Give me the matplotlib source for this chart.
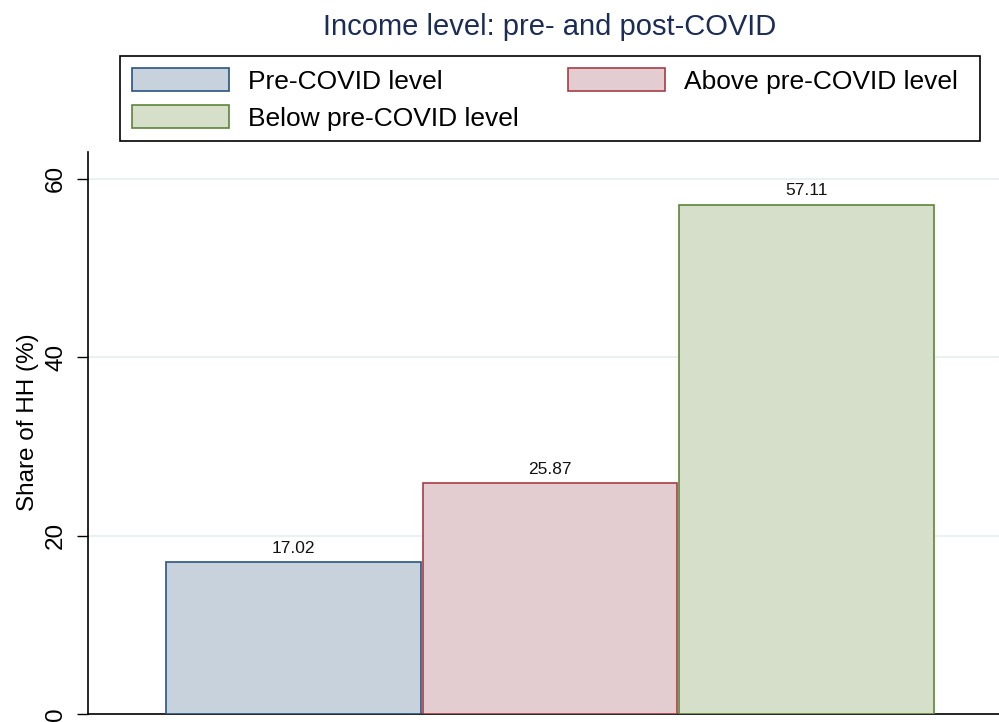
import matplotlib
matplotlib.use("Agg")
import matplotlib.pyplot as plt
from matplotlib.patches import Patch, Rectangle

categories = ["Pre-COVID level", "Above pre-COVID level", "Below pre-COVID level"]
values = [17.02, 25.87, 57.11]
yticks = [0, 20, 40, 60]

fills = ["#c8d2dc", "#e3cdd1", "#d5dfca"]
edges = ["#2a5580", "#a83c48", "#5f8438"]

plt.rcParams['font.family'] = ['Liberation Sans', 'DejaVu Sans']

W, H = 999, 722
fig = plt.figure(figsize=(W/100, H/100), dpi=100)
ax = fig.add_axes([88/W, 1 - 714/H, 1 - 88/W, (714 - 152)/H])

x = list(range(len(values)))
ax.bar(x, values, width=0.992, color=fills, edgecolor=edges, linewidth=1.2, zorder=3)
for xi, v in zip(x, values):
    ax.text(xi, v + 0.7, f"{v:.2f}", ha="center", va="bottom", fontsize=12.5, color="#111111")

ax.set_xlim(-0.80, 2.75)
ax.set_ylim(0, 63)
ax.set_yticks(yticks)
ax.set_yticklabels([str(t) for t in yticks], rotation=90, va="center", fontsize=17.5)
ax.tick_params(axis="y", length=8, width=1, pad=7)
ax.set_xticks([])
for t in yticks[1:]:
    ax.axhline(t, color="#e6eff1", linewidth=1.2, zorder=1)
for s in ["top", "right"]:
    ax.spines[s].set_visible(False)
ax.spines["left"].set_linewidth(1.2)
ax.spines["bottom"].set_linewidth(1.2)
ax.set_ylabel("Share of HH (%)", fontsize=17.5)
ax.yaxis.set_label_coords((39 - 88)/911, (714 - 422)/562)

fig.text(550/W, 1 - 27/H, "Income level: pre- and post-COVID", ha="center", va="center",
         fontsize=21, color="#1c2d55")

# legend frame
fig.patches.append(Rectangle((120/W, 1 - 141/H), (980 - 120)/W, (141 - 56)/H,
                             transform=fig.transFigure, fill=False, edgecolor="black",
                             linewidth=1.2, zorder=5))

handles = [Patch(facecolor=f, edgecolor=e, linewidth=1.2) for f, e in zip(fills, edges)]
order = [0, 2, 1]
leg = fig.legend([handles[i] for i in order], [categories[i] for i in order],
                 loc="upper left", bbox_to_anchor=(121/W, 1 - 57/H),
                 ncol=2, fontsize=19, frameon=False,
                 handlelength=3.67, handleheight=0.95, borderaxespad=0, labelspacing=0.45,
                 handletextpad=0.72, borderpad=0.42, columnspacing=1.86)

fig.savefig("out.png", dpi=100)
